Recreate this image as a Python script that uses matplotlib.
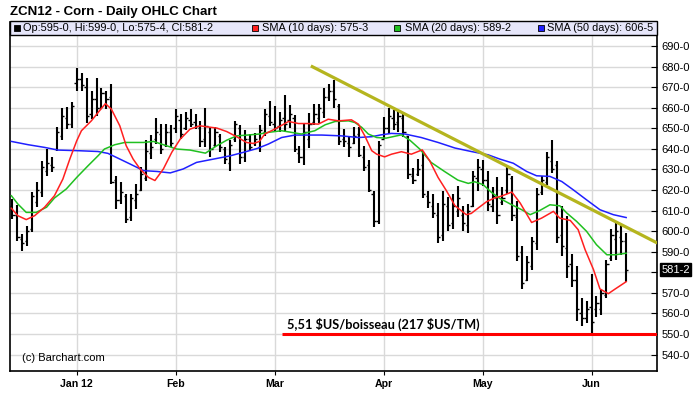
import matplotlib
matplotlib.use('Agg')
import matplotlib.pyplot as plt
from matplotlib.patches import Rectangle
from matplotlib.transforms import blended_transform_factory

plt.rcParams['font.family'] = ['Liberation Sans', 'DejaVu Sans']

# ---------------- data (trading-day index, 0 = 3 Jan 2012) ----------------
bar_index = list(range(-13, 112))
highs = [615.6, 612.7, 598.6, 602.6, 618.8, 623.7, 633.9, 639.9, 635.8, 650.4, 659.8, 660.4, 663.0,
         679.2, 677.1, 674.3, 668.2, 674.3, 669.8, 668.2, 671.4, 626.9, 624.0,
         618.0, 618.0, 622.9, 631.0, 644.2, 646.8, 654.9, 652.0, 652.0, 651.7,
         659.6, 656.9, 657.7, 659.3, 656.9, 653.6, 659.8, 650.7, 650.7, 647.2,
         641.1, 644.2, 653.6, 651.5, 649.1, 647.2, 647.6, 651.6, 659.3, 663.3,
         660.6, 657.7, 666.1, 661.4, 656.5, 641.5, 652.8, 657.2, 661.7, 661.7,
         669.8, 671.4, 673.4, 661.7, 649.6, 646.3, 650.4, 650.7, 641.5, 634.5,
         619.6, 643.6, 655.6, 659.8, 658.8, 658.2, 657.7, 646.3, 630.6, 635.0,
         639.1, 619.3, 618.0, 613.5, 619.3, 616.7, 618.0, 622.1, 612.4, 613.2,
         629.4, 635.0, 634.5, 629.4, 621.3, 626.1, 621.3, 631.6, 626.9, 614.4,
         592.6, 587.7, 597.1, 620.9, 626.6, 638.7, 644.4, 633.9, 612.3, 607.2,
         589.0, 583.2, 567.5, 565.9, 579.3, 568.3, 571.6, 586.1, 601.0, 603.9,
         603.1, 599.0]
lows = [605.9, 595.0, 590.5, 593.0, 599.4, 611.6, 616.4, 626.9, 628.5, 639.1, 644.2, 649.6, 650.1,
        668.2, 668.2, 652.8, 654.4, 656.1, 659.3, 659.3, 622.9, 610.7, 613.2,
        603.8, 605.1, 610.7, 619.6, 624.5, 635.0, 642.3, 637.4, 640.7, 640.7,
        647.5, 644.7, 649.1, 650.4, 649.6, 641.1, 641.1, 636.1, 641.1, 638.3,
        632.6, 629.4, 643.1, 632.6, 633.4, 639.1, 641.6, 638.5, 646.3, 651.2,
        648.8, 648.4, 648.4, 650.1, 638.3, 633.1, 632.3, 640.4, 651.7, 652.8,
        655.2, 663.3, 659.8, 642.0, 640.7, 636.1, 642.3, 635.8, 629.4, 618.8,
        602.2, 603.4, 644.7, 647.2, 649.1, 648.0, 645.9, 625.3, 622.9, 626.9,
        616.1, 611.2, 606.2, 594.1, 595.4, 600.2, 601.0, 606.7, 600.2, 598.9,
        611.6, 619.6, 622.1, 609.9, 609.1, 603.5, 612.5, 618.2, 604.7, 585.3,
        571.9, 575.6, 581.3, 590.6, 617.7, 622.5, 628.2, 594.2, 587.7, 577.2,
        572.8, 556.2, 553.8, 555.3, 550.5, 558.3, 559.4, 567.5, 585.3, 586.1,
        588.5, 575.5]
opens = [612, 608, 596, 595, 601, 614, 619, 629, 632, 640, 646, 655, 652,
         672, 674, 670, 657, 664, 660, 667, 665, 625, 615,
         617, 607, 615, 620, 626, 638, 645, 647, 642, 648,
         650, 654, 650, 654, 653, 650, 645, 648, 642, 646,
         640, 633, 645, 650, 636, 645, 643, 641, 648, 656,
         652, 651, 655, 654, 655, 638, 636, 645, 653, 655,
         658, 665, 668, 661, 645, 643, 643, 647, 636, 632,
         618, 605, 645, 650, 655, 653, 655, 646, 627, 628,
         632, 617, 612, 608, 598, 612, 604, 610, 608, 603,
         612, 626, 630, 625, 612, 616, 614, 620, 626, 607,
         590, 576, 583, 594, 619, 624, 634, 632, 598, 592,
         584, 576, 560, 558, 563, 562, 562, 569, 587, 596,
         597, 595]
closes = [608, 597, 594, 600, 617, 620, 631, 633, 631, 648, 656, 652, 661,
          674, 671, 656, 664, 660, 667, 664, 624, 615, 619,
          606, 616, 618, 628, 639, 641, 648, 640, 648, 643,
          656, 647, 655, 652, 651, 644, 651, 640, 648, 641,
          635, 642, 652, 636, 645, 641, 645, 649, 657, 653,
          650, 654, 652, 657, 640, 636, 648, 652, 657, 660,
          665, 668, 664, 644, 644, 641, 646, 637, 631, 620,
          605, 642, 650, 656, 652, 656, 648, 628, 625, 630,
          618, 614, 609, 597, 613, 603, 612, 616, 604, 610,
          627, 631, 625, 613, 617, 608, 616, 628, 608, 588,
          575, 585, 595, 618, 625, 636, 630, 597, 593, 583,
          576, 562, 558, 562, 556, 565, 570, 584, 598, 600,
          595, 581.25]

sma10_x = [-13.2, -11.9, -10.2, -8.5, -6.5, -4.5, -2.8, -1.4, 0, 0.95, 2.95, 4.6, 5.8, 7.0, 8.7, 10.0,
           11.4, 12.8, 14.5, 15.8, 17.5, 19.2, 20.9, 22.9, 24.9, 26.3, 28.3, 30.3, 32.3, 34.3, 35.7,
           36.9, 38.0, 40.4, 42.8, 44.8, 46.8, 48.8, 50.8, 52.9, 55.5, 56.9, 58.2, 59.6, 60.6, 62.2,
           63.6, 65.6, 67.6, 69.8, 71.3, 73.0, 74.7, 76.4, 78.7, 79.7, 81.1, 82.8, 84.4, 85.8, 87.9,
           89.6, 91.9, 93.9, 96.3, 97.6, 99.7, 101.3, 102.7, 104.4, 105.7, 107.4, 108.8, 111]
sma10_y = [611.1, 607.5, 605.6, 607.5, 611.6, 617.2, 625.3, 635.0, 643.9, 648.8, 653.6, 658.5, 662.0, 659.3, 651.2, 641.5,
           635.0, 630.2, 626.1, 624.6, 630.2, 638.3, 644.7, 649.6, 651.2, 650.7, 650.1, 648.4, 645.9, 643.1, 642.6,
           643.6, 647.2, 650.1, 653.3, 652.3, 652.3, 652.0, 654.4, 653.6, 654.1, 652.0, 646.3, 639.1, 637.4, 636.1,
           637.4, 638.6, 637.4, 639.5, 634.2, 626.1, 619.6, 612.4, 608.0, 608.6, 611.2, 614.3, 616.1, 617.0, 619.0,
           613.6, 604.2, 606.3, 609.6, 606.3, 605.2, 600.7, 591.0, 581.3, 571.9, 569.6, 571.9, 575.4]
sma20_x = [-13.2, -11.9, -10.2, -8.2, -6.1, -4.5, -2.1, 0, 2.3, 4.3, 5.6, 7.7, 9.7, 11.4, 13.5, 15.5, 17.5,
           20.2, 22.9, 26.0, 28.3, 30.3, 32.3, 35.0, 36.9, 38.7, 41.4, 43.4, 45.4, 48.1, 50.2, 52.2, 54.9,
           56.2, 57.6, 58.9, 60.6, 62.5, 65.6, 67.3, 69.3, 71.6, 74.3, 77.0, 79.1, 80.4, 82.1, 83.8, 85.4,
           87.9, 89.9, 91.6, 93.6, 95.6, 97.6, 99.0, 101.0, 103.0, 105.0, 107.1, 108.8, 111]
sma20_y = [617.2, 613.2, 609.1, 609.1, 611.6, 616.1, 620.5, 626.1, 631.8, 636.6, 639.9, 642.0, 643.1, 643.1, 643.1, 643.6, 642.0,
           639.9, 639.4, 637.9, 641.5, 644.2, 646.3, 646.8, 647.2, 648.0, 648.8, 648.0, 647.2, 648.8, 651.7, 653.3, 653.6,
           652.8, 650.4, 647.2, 645.5, 645.2, 646.8, 644.2, 639.9, 633.4, 629.0, 624.8, 623.2, 624.0, 622.6, 618.8, 616.0,
           612.8, 610.4, 608.0, 610.1, 612.8, 612.3, 608.8, 604.7, 599.9, 593.4, 588.5, 588.5, 589.25]
sma50_x = [-13.2, -9.8, -6.5, -3.8, 0.3, 4.3, 6.3, 8.3, 10.8, 13.5, 16.2, 18.9, 21.5, 24.2, 27.6, 31.0, 34.3,
           36.5, 38.7, 41.4, 44.1, 49.5, 53.5, 56.9, 59.6, 61.5, 63.6, 66.3, 69.6, 73.0, 76.4, 79.7, 83.1,
           85.5, 88.2, 90.9, 92.9, 95.6, 98.0, 100.3, 103.0, 105.7, 108.4, 111]
sma50_y = [643.6, 642.0, 640.7, 639.4, 639.1, 638.7, 637.8, 635.5, 632.6, 629.4, 629.0, 628.3, 630.2, 633.4, 635.0, 636.6, 638.7,
           640.2, 642.3, 645.5, 646.7, 646.7, 646.3, 645.5, 645.9, 646.8, 647.5, 647.2, 645.5, 643.1, 640.4, 638.7, 637.1,
           635.0, 633.0, 629.0, 626.9, 626.6, 624.1, 620.1, 615.2, 610.4, 608.0, 606.6]

trend_x = [47.3, 117.3]
trend_y = [680.3, 594.2]
support_level = 550.0
support_start = 41.4

month_ticks = [0, 20, 40, 62, 82, 104]
month_labels = ['Jan 12', 'Feb', 'Mar', 'Apr', 'May', 'Jun']
price_ticks = [540, 550, 560, 570, 580, 590, 600, 610, 620, 630, 640, 650, 660, 670, 680, 690]
price_labels = ['540-0', '550-0', '560-0', '570-0', '', '590-0', '600-0', '610-0', '620-0', '630-0',
                '640-0', '650-0', '660-0', '670-0', '680-0', '690-0']

title = 'ZCN12 - Corn - Daily OHLC Chart'
legend_items = [('Op:595-0, Hi:599-0, Lo:575-4, Cl:581-2', 'black'),
                ('SMA (10 days): 575-3', '#ff2020'),
                ('SMA (20 days): 589-2', '#20c020'),
                ('SMA (50 days): 606-5', '#2020ff')]
annotation = '5,51 $US/boisseau (217 $US/TM)'
last_label = '581-2'
last_value = 581.25

assert len(bar_index) == len(highs) == len(lows) == len(opens) == len(closes)

# ---------------- figure ----------------
W, H = 699, 395
fig = plt.figure(figsize=(W / 100, H / 100), dpi=100)
ax_l, ax_r, ax_t, ax_b = 9.5, 657, 21.5, 371
ax = fig.add_axes([ax_l / W, 1 - ax_b / H, (ax_r - ax_l) / W, (ax_b - ax_t) / H])
ax.set_xlim(-13.58, 117.23)
ax.set_ylim(532.0, 701.9)

# grid
for v in price_ticks:
    ax.axhline(v, color='#d9d9d9', lw=1.0, zorder=0)
for m in month_ticks:
    ax.axvline(m, color='#d9d9d9', lw=1.0, zorder=0)

# OHLC bars
ax.vlines(bar_index, lows, highs, color='black', lw=1.5, zorder=3)
ax.hlines(opens, [i - 0.45 for i in bar_index], bar_index, color='black', lw=1.0, zorder=3)
ax.hlines(closes, bar_index, [i + 0.45 for i in bar_index], color='black', lw=1.0, zorder=3)

# SMAs
ax.plot(sma50_x, sma50_y, color='#2020ff', lw=1.1, zorder=4)
ax.plot(sma20_x, sma20_y, color='#20c020', lw=1.1, zorder=4)
ax.plot(sma10_x, sma10_y, color='#ff2020', lw=1.1, zorder=4)

# trend line and support
ax.plot(trend_x, trend_y, color='#b5b51e', lw=2.3, zorder=5, solid_capstyle='butt', clip_on=True)
ax.plot([support_start, 117.23], [support_level, support_level], color='#ff0000', lw=2.2, zorder=5,
        solid_capstyle='butt')
ax.text(42.5, support_level + 1.4, annotation, fontsize=9.2, fontweight='bold', family=['Lato', 'DejaVu Sans'],
        ha='left', va='bottom', color='black', zorder=6, parse_math=False)

# copyright
ax.text((22 - ax_l) / (ax_r - ax_l), (ax_b - 358) / (ax_b - ax_t), '(c) Barchart.com', transform=ax.transAxes,
        fontsize=8, ha='left', va='center', color='black', zorder=6)

# axes style
ax.yaxis.tick_right()
ax.set_yticks(price_ticks)
ax.set_yticklabels(price_labels)
ax.set_xticks(month_ticks)
ax.set_xticklabels(month_labels, fontweight='bold')
ax.tick_params(axis='y', direction='in', length=4, width=0.8, pad=3, labelsize=8, colors='black')
ax.tick_params(axis='x', direction='out', length=3, width=0.8, pad=3, labelsize=7.6)
for s in ax.spines.values():
    s.set_color('black')
    s.set_linewidth(1.2)
ax.spines['top'].set_visible(False)

# last price tag
tr = blended_transform_factory(ax.transAxes, ax.transData)
ax.text(1.0 + 4.5 / (ax_r - ax_l), last_value, last_label, transform=tr, fontsize=8, color='white',
        ha='left', va='center', clip_on=False,
        bbox=dict(boxstyle='square,pad=0.12', facecolor='black', edgecolor='black'))

# legend bar
leg_h = 13 / (ax_b - ax_t)
ax.add_patch(Rectangle((0, 1 - leg_h), 1, leg_h, transform=ax.transAxes, facecolor='#e6e6fa',
                       edgecolor='black', lw=1.0, zorder=10, clip_on=False))
sq_px = [17.3, 255, 397.4, 541]
txt_px = [23, 262, 405, 547]
yc = 1 - leg_h / 2
for (label, col), sx, tx in zip(legend_items, sq_px, txt_px):
    ax.plot([(sx - ax_l) / (ax_r - ax_l)], [yc], marker='s', markersize=5, markerfacecolor=col,
            markeredgecolor='black', markeredgewidth=0.6, transform=ax.transAxes, zorder=11, clip_on=False)
    ax.text((tx - ax_l) / (ax_r - ax_l), yc, label, transform=ax.transAxes, fontsize=7.9, ha='left',
            va='center', color='black', zorder=11)

# title
fig.text(9.5 / W, 1 - 12 / H, title, fontsize=9.5, fontweight='bold', ha='left', va='center')

fig.savefig('out.png', dpi=100, facecolor='white')
